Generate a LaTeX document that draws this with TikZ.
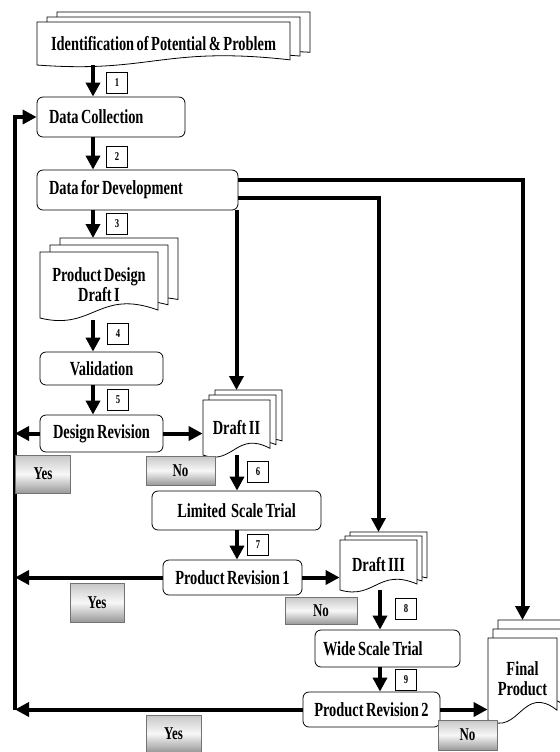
\documentclass[tikz,border=0pt]{standalone}
\usepackage{fontspec}
\setmainfont{Liberation Serif}[FakeStretch=0.72, WordSpace=0.7]
\usetikzlibrary{arrows.meta}

\tikzset{
  flow/.style={line width=2pt, -{Triangle[length=7pt,width=7pt]}},
  flowline/.style={line width=2pt},
  stepbox/.style={draw, thin, rounded corners=3pt, fill=white, inner sep=0pt,
    font=\bfseries\fontsize{10}{11}\selectfont},
  leftbox/.style={stepbox, align=left},
  numbox/.style={draw, thin, fill=white, minimum width=10.5pt, minimum height=10.5pt,
    inner sep=0pt, font=\bfseries\fontsize{6}{6}\selectfont},
  answer/.style={draw=black!55, thin, top color=black!22, bottom color=black!40,
    middle color=black!3, inner sep=0pt, font=\bfseries\fontsize{9}{9}\selectfont},
  doctext/.style={align=center, inner sep=0pt, font=\bfseries\fontsize{10}{10}\selectfont},
  docpage/.style={draw, thin, fill=white}
}

% font's own word space inside left-aligned boxes
\newcommand{\plainsp}{\spaceskip=0pt\xspaceskip=0pt\relax}
% one page with a wavy bottom: x1,y1,x2,y2
\newcommand{\docpage}[4]{\draw[docpage] (#1,#2) -- (#3,#2) -- (#3,{#4-0.12*(#4-#2)})
  .. controls ({#3-0.5*(#3-#1)},{#4-0.45*(#4-#2)}) and ({#1+0.45*(#3-#1)},{#4+0.2*(#4-#2)}) .. (#1,#4) -- cycle;}
% stack of pages: name, x1,y1,x2,y2, dx,dy, text
\newcommand{\multidoc}[8]{%
  \docpage{#2+2*#6}{#3-2*#7}{#4+2*#6}{#5-2*#7}
  \docpage{#2+#6}{#3-#7}{#4+#6}{#5-#7}
  \docpage{#2}{#3}{#4}{#5}
  \node[doctext, minimum width={(#4-#2)*0.5pt}, minimum height={(#5-#3)*0.5pt}] (#1)
    at ({(#2+#4)/2},{(#3+#5)/2}) {#8};
  \coordinate (#1-top) at ({(#2+#4)/2},{#3-2*#7});
}

\begin{document}
\begin{tikzpicture}[x=0.5pt, y=-0.5pt]
	%%%%% START %%%%%
	\useasboundingbox (0,0) rectangle (560,752);
	
	\coordinate (fbx) at (15,0);
	\coordinate (colA) at (93,0);
	\coordinate (colB) at (237,0);
	\coordinate (colC) at (380,0);
	
	% documents
	\multidoc{ident}{37}{22}{290}{65}{10}{5}{Identification of Potential \& Problem}
	\multidoc{draftone}{40}{252}{158}{318}{10}{7}{Product Design\\Draft I}
	\multidoc{drafttwo}{203}{400}{270}{455}{6}{5}{Draft II}
	\multidoc{draftthree}{340}{540}{417}{590}{5}{4}{Draft III}
	\multidoc{final}{488}{638}{557}{720}{5}{9}{Final\\Product}
	
	% steps
	\node[leftbox, text width=62pt, inner xsep=6pt, minimum height=20pt] (datacol) at (111,117) {\plainsp Data Collection};
	\node[leftbox, text width=88.5pt, inner xsep=6pt, minimum height=20pt] (devdata) at (137.5,190) {\plainsp Data for Development};
	\node[stepbox, minimum width=61.5pt, minimum height=16.5pt] (valid) at (101.5,368.5) {Validation};
	\node[stepbox, minimum width=61.5pt, minimum height=18.5pt] (desrev) at (101.5,433.5) {Design Revision};
	\node[stepbox, minimum width=84.5pt, minimum height=19.5pt] (limited) at (236.5,510.5) {Limited \ Scale Trial};
	\node[stepbox, minimum width=69.5pt, minimum height=17.5pt] (prodrevone) at (232.5,577.5) {Product Revision 1};
	\node[leftbox, text width=64.5pt, inner xsep=4pt, minimum height=18.5pt] (wide) at (387.5,648.5) {\plainsp Wide Scale Trial};
	\node[stepbox, minimum width=68.5pt, minimum height=17.5pt] (prodrevtwo) at (371.5,709.5) {Product Revision 2};
	
	% main flow
	\draw[flow] (ident.south -| colA) -- (datacol.north -| colA);
	\draw[flow] (datacol.south -| colA) -- (devdata.north -| colA);
	\draw[flow] (devdata.south -| colA) -- (draftone-top -| colA);
	\draw[flow] ([yshift=-1pt]draftone.south -| colA) -- (valid.north -| colA);
	\draw[flow] (valid.south -| colA) -- (desrev.north -| colA);
	\draw[flow] (drafttwo.south -| colB) -- (limited.north -| colB);
	\draw[flow] (limited.south -| colB) -- (prodrevone.north -| colB);
	\draw[flow] (draftthree.south -| colC) -- (wide.north -| colC);
	\draw[flow] (wide.south -| colC) -- (prodrevtwo.north -| colC);
	
	% from data for development
	\draw[flow] (devdata.south -| drafttwo-top) -- (drafttwo-top);
	\draw[flow] ([yshift=-4pt]devdata.east) -| (draftthree-top);
	\draw[flow] ([yshift=5pt]devdata.east) -| (final-top);
	
	% no
	\draw[flow] (desrev.east) -- (desrev.east -| drafttwo.west);
	\draw[flow] (prodrevone.east) -- (prodrevone.east -| draftthree.west);
	\draw[flow] (prodrevtwo.east) -- (prodrevtwo.east -| final.west);
	
	% yes
	\draw[flow] (desrev.west) -- (desrev.west -| fbx);
	\draw[flow] (prodrevone.west) -- (prodrevone.west -| fbx);
	\draw[flow] (prodrevtwo.west) -- (prodrevtwo.west -| fbx);
	\draw[flow, line join=miter] (prodrevtwo.west -| fbx) -- (datacol.west -| fbx) -- (datacol.west);
	
	% numbers
	\node[numbox] (n1) at (117,83) {1};
	\node[numbox] (n2) at (117,157) {2};
	\node[numbox] (n3) at (117,224) {3};
	\node[numbox] (n4) at (118,334) {4};
	\node[numbox] (n5) at (118,400) {5};
	\node[numbox] (n6) at (258,472) {6};
	\node[numbox] (n7) at (258,545) {7};
	\node[numbox] (n8) at (406,609) {8};
	\node[numbox] (n9) at (406,680) {9};
	
	% answers
	\node[answer, minimum width=27.5pt, minimum height=19pt] (yesone) at (43,474) {Yes};
	\node[answer, minimum width=34.5pt, minimum height=14.5pt] (noone) at (180.5,470.5) {No};
	\node[answer, minimum width=27pt, minimum height=19.5pt] (yestwo) at (97,602.5) {Yes};
	\node[answer, minimum width=36pt, minimum height=13.5pt] (notwo) at (321,610.5) {No};
	\node[answer, minimum width=27.5pt, minimum height=18.5pt] (yesthree) at (173.5,733.5) {Yes};
	\node[answer, minimum width=29.5pt, minimum height=15pt] (nothree) at (467.5,735) {No};
	
	%%%%% END %%%%%
\end{tikzpicture}
\end{document}
